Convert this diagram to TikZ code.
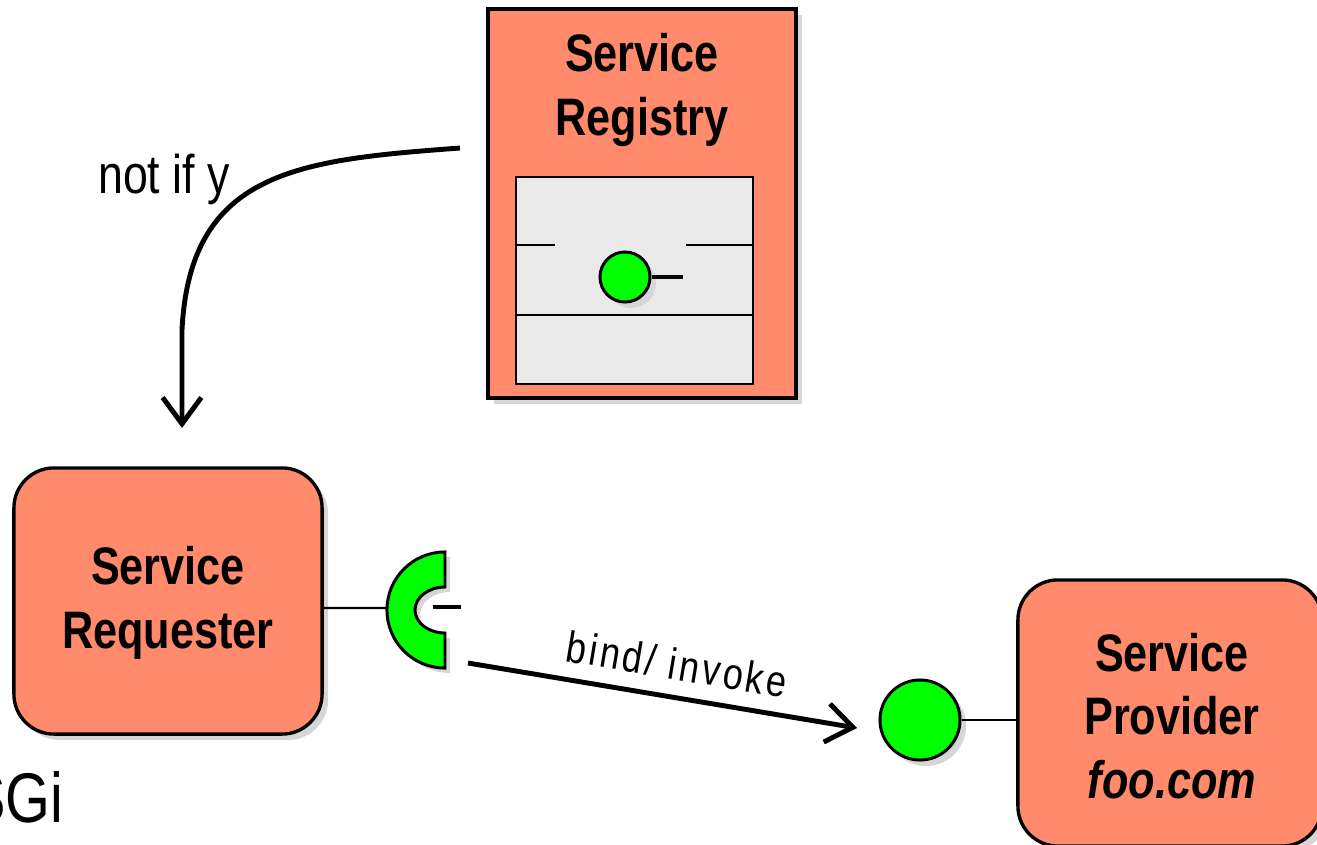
\documentclass[tikz,border=0pt]{standalone}
\usepackage{fontspec}
\newfontfamily\narrowsf[FakeStretch=0.82]{Liberation Sans}
\usepackage{tikz}
\usepackage{tkz-euclide}
\usetikzlibrary{arrows.meta,shadows}
\definecolor{salmon}{RGB}{255,138,108}
\definecolor{ifgreen}{RGB}{0,255,0}
\definecolor{regbg}{RGB}{233,233,233}
\tikzset{
  boxshadow/.style={drop shadow={shadow xshift=0.06cm,shadow yshift=-0.06cm,fill=black!16,opacity=1}},
  compbox/.style={draw,line width=0.95pt,fill=salmon,rounded corners=0.4cm,boxshadow,minimum width=3.08cm,minimum height=2.66cm},
  title/.style={font=\narrowsf\bfseries\fontsize{15}{18}\selectfont,align=center},
  ball/.style={circle,draw,line width=0.85pt,fill=ifgreen,inner sep=0pt,boxshadow},
  flow/.style={line width=1.4pt,-{Straight Barb[length=7.5pt,width=11pt]}},
  lbl/.style={font=\narrowsf\fontsize{15.5}{18}\selectfont}
}

\begin{document}
\begin{tikzpicture}[x=0.01cm,y=-0.01cm]
                        \useasboundingbox (0,0) rectangle (1317,845);

                        % registry
                        \node[draw,line width=0.95pt,fill=salmon,boxshadow,minimum width=3.08cm,minimum height=3.89cm] (reg) at (642,203.5) {};
                        \node[title] (regt) at (642,90) {Service\\Registry};
                        \node[draw,line width=0.6pt,fill=regbg,minimum width=2.37cm,minimum height=2.07cm] (regin) at (634.5,280.5) {};
                        \draw[line width=0.6pt] ([yshift=-0.345cm]regin.west) -- ([yshift=-0.345cm]regin.east);
                        \draw[line width=0.6pt] ([yshift=0.355cm]regin.west) -- ++(40,0);
                        \draw[line width=0.6pt] ([yshift=0.355cm]regin.east) -- ++(-68,0);
                        \node[ball,minimum size=0.5cm] (rball) at (625,277) {};
                        \tkzDefPoints{683/277/rtail}
                        \draw[line width=1.1pt] (rball.east) -- (rtail);

                        % requester
                        \node[compbox] (req) at (168,601) {};
                        \node[title] (reqt) at (168,603) {Service\\Requester};
                        \tkzDefPoints{445/610/sock, 386/608/sockl}
                        \draw[line width=0.7pt] ([yshift=-0.07cm]req.east) -- (sockl);
                        \fill[black!16] ([xshift=0.05cm,yshift=-0.05cm]sock) ++(0,0.58cm) arc[start angle=90,end angle=270,radius=0.58cm]
                            -- ++(0,0.35cm) arc[start angle=270,end angle=90,x radius=0.3cm,y radius=0.23cm] -- cycle;
                        \draw[line width=0.85pt,fill=ifgreen] (sock) ++(0,0.58cm) arc[start angle=90,end angle=270,radius=0.58cm]
                            -- ++(0,0.35cm) arc[start angle=270,end angle=90,x radius=0.3cm,y radius=0.23cm] -- cycle;
                        \draw[line width=1.2pt] (433,607) -- (461,607);

                        % provider
                        \node[compbox,minimum width=3.04cm] (prov) at (1170,713) {};
                        \node[title] (provt) at (1172,716) {Service\\Provider\\\itshape foo.com};
                        \node[ball,minimum size=0.8cm] (pball) at (920,720) {};
                        \draw[line width=0.7pt] (pball.east) -- (pball.east -| prov.west);

                        % connectors
                        \tkzDefPoints{460/148/nstart, 182/428/nend, 468/663/bstart, 857/728/bend}
                        \draw[flow] (nstart) .. controls (300,160) and (190,170) .. (182,330) -- (nend);
                        \node[lbl] (notify) at (164,179) {not if y};
                        \draw[flow] (bstart) -- (bend);
                        \node[font=\narrowsf\fontsize{12.5}{15}\selectfont\addfontfeature{LetterSpace=7},rotate=-9.5] (bind) at (677,664) {bind/ invoke};

                        \node[font=\narrowsf\fontsize{20}{24}\selectfont,inner sep=0pt,anchor=base east] (osgi) at (64,822) {OSGi};
                    \end{tikzpicture}
\end{document}
